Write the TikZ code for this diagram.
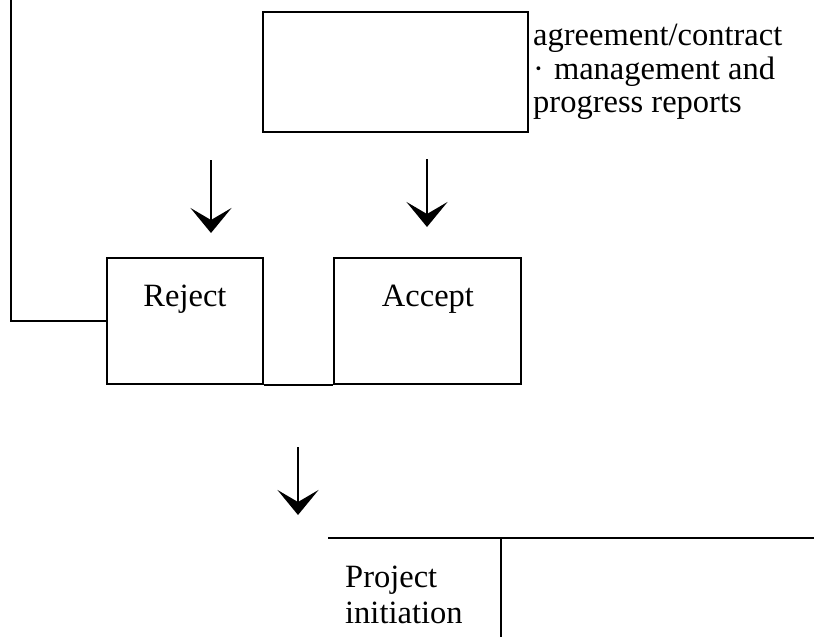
\documentclass[tikz,border=0pt]{standalone}
\usepackage{fontspec}
\setmainfont{Liberation Serif}
\usetikzlibrary{arrows.meta}

\begin{document}
\begin{tikzpicture}[x=1pt,y=-1pt,line width=2.4pt,
  box/.style={draw,rectangle,inner sep=0pt},
  txt/.style={inner sep=0pt,font=\fontsize{32.5}{34}\selectfont},
  down/.style={line width=2.6pt,-{Stealth[length=25pt,width=41pt,inset=12pt]}}]
\useasboundingbox (0,0) rectangle (814,637);
% ---------- top box and its notes ----------
\node[box,minimum width=265pt,minimum height=120pt] (agree) at (395.5,72) {};
\node[txt,anchor=base west] (note1) at (532,45) {agreement/contract};
\node[txt,anchor=base west] (note2) at (532,79) {·\hspace{10pt}management and};
\node[txt,anchor=base west] (note3) at (532,112) {progress reports};
% ---------- decision boxes ----------
\node[box,minimum width=156pt,minimum height=126pt] (reject) at (185,321) {};
\node[box,minimum width=187pt,minimum height=126pt] (accept) at (427.5,321) {};
\node[txt,anchor=base] (rejtxt) at (185,306) {Reject};
\node[txt,anchor=base] (acctxt) at (428,306) {Accept};
% loop back from reject
\coordinate (back) at (11,-3);
\draw (back) |- (reject.west);
\draw (reject.south east) -- (accept.south west);
% ---------- arrows ----------
\coordinate (a1) at (211,160);
\coordinate (b1) at (211,233);
\coordinate (a2) at (427,159);
\coordinate (b2) at (427,227);
\coordinate (a3) at (298,447);
\coordinate (b3) at (298,515);
\draw[down] (a1) -- (b1);
\draw[down] (a2) -- (b2);
\draw[down] (a3) -- (b3);
% ---------- project initiation row ----------
\coordinate (rowl) at (328,538);
\coordinate (rowr) at (817,538);
\coordinate (colt) at (501,538);
\coordinate (colb) at (501,640);
\draw (rowl) -- (rowr);
\draw (colt) -- (colb);
\node[txt,anchor=base west] (proj1) at (344,587) {Project};
\node[txt,anchor=base west] (proj2) at (344,623) {initiation};
\end{tikzpicture}
\end{document}
